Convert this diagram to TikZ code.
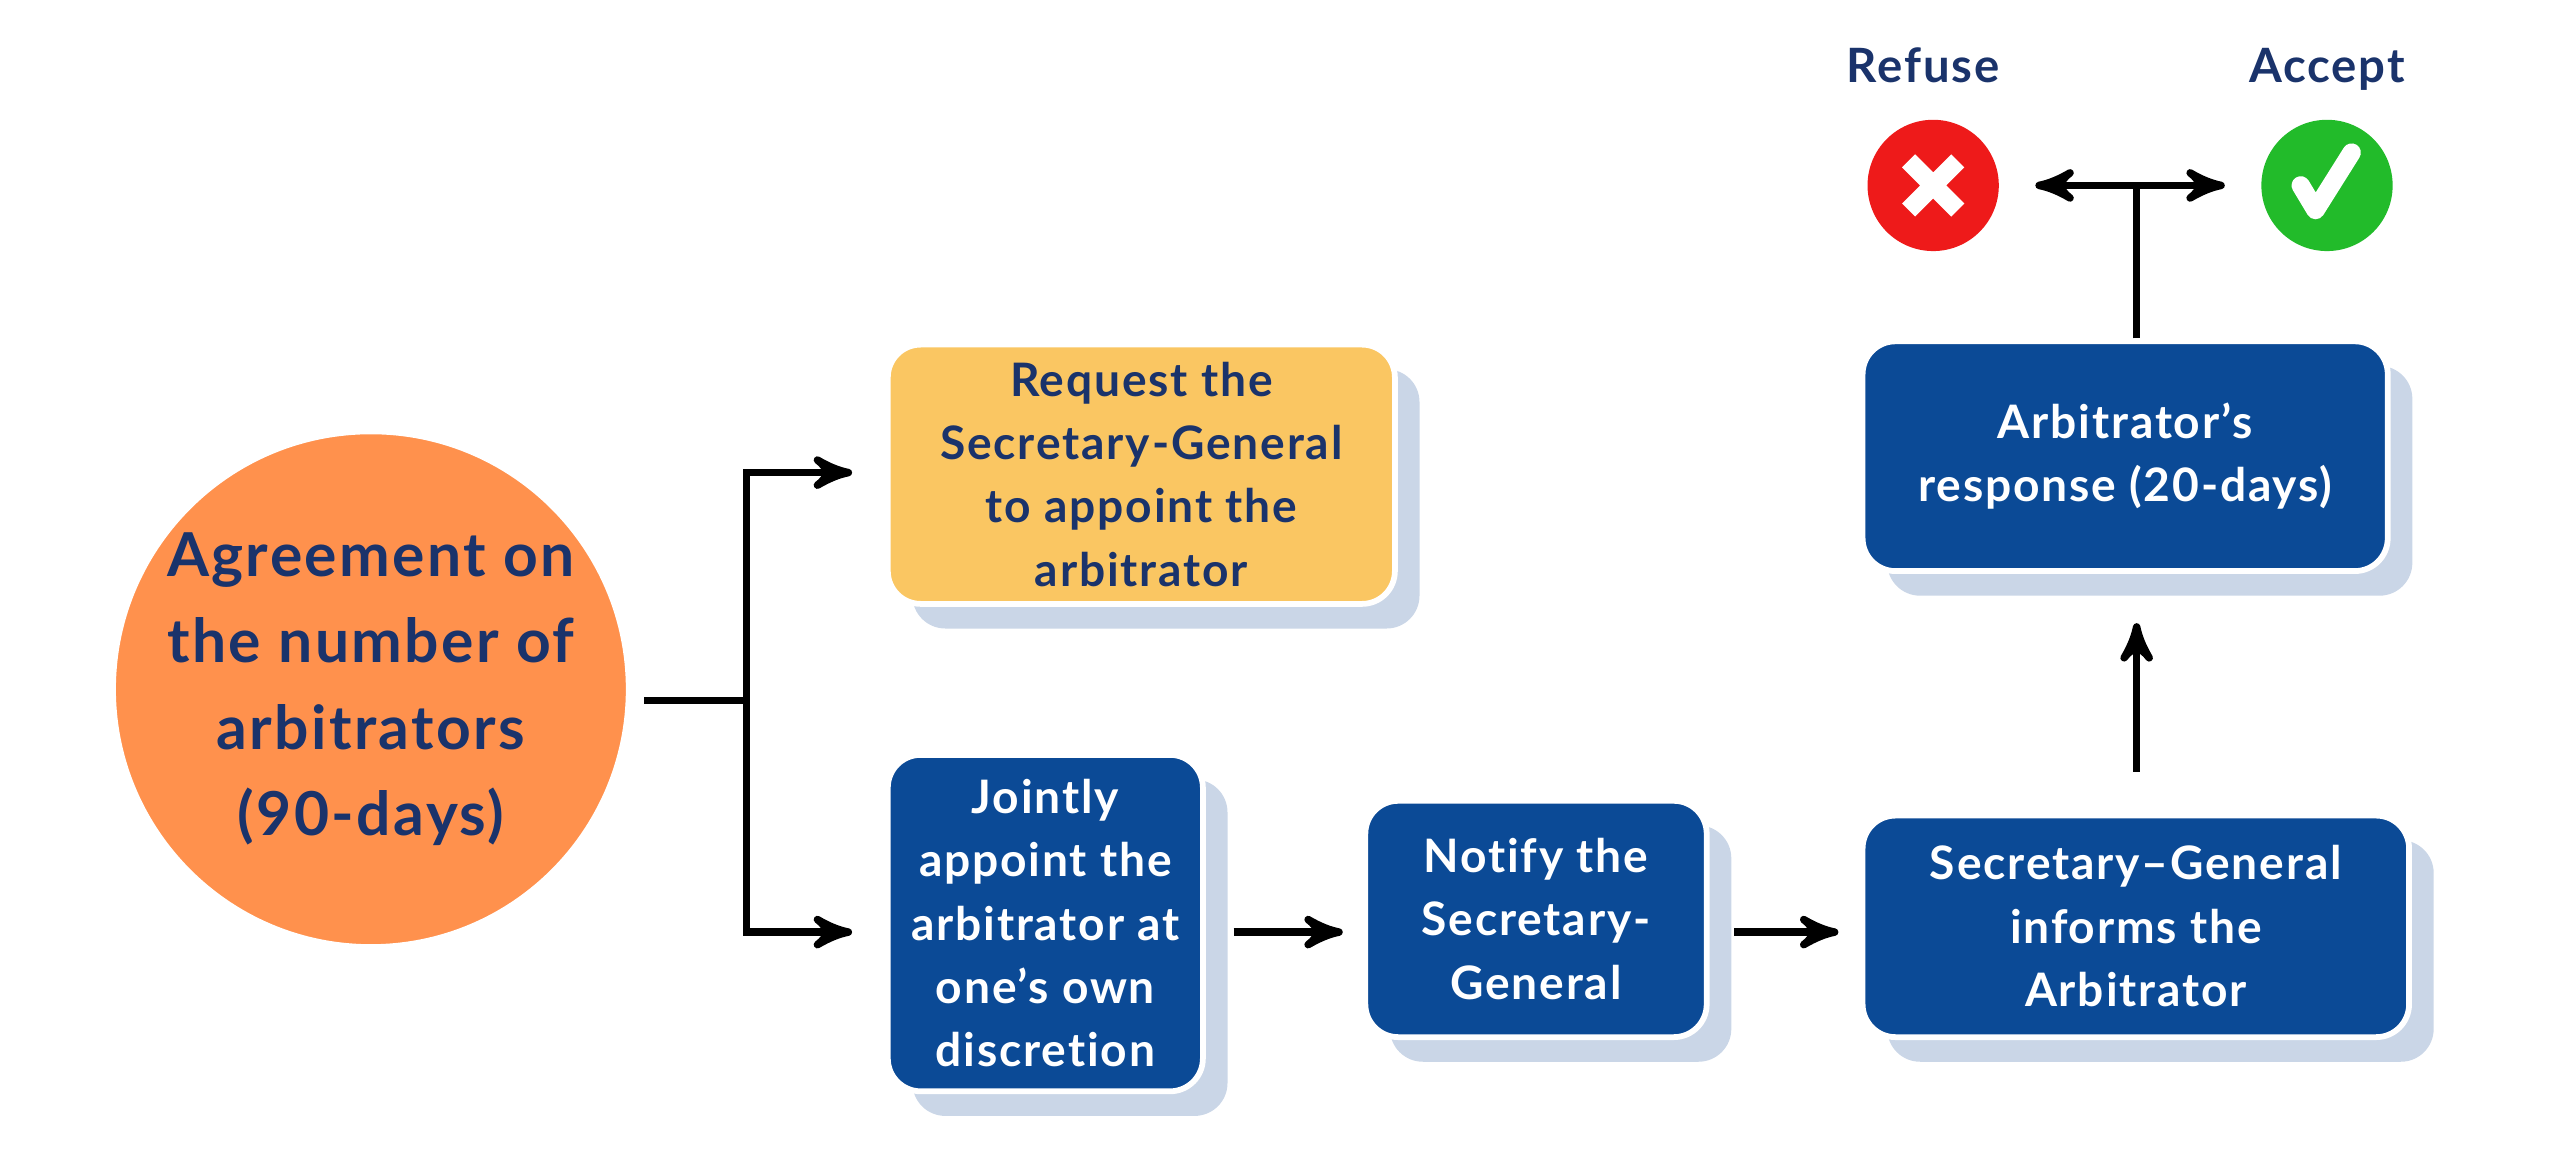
\documentclass[tikz,border=0pt]{standalone}
\usepackage{fontspec}
\setmainfont{Lato}[LetterSpace=4, Ligatures={NoCommon}]
\usetikzlibrary{arrows, positioning, shadows}
\definecolor{navy}{HTML}{0B4A96}
\definecolor{ink}{HTML}{1A336B}
\definecolor{peach}{HTML}{FF914D}
\definecolor{sand}{HTML}{FAC662}
\definecolor{shade}{HTML}{CAD6E7}
\definecolor{nogo}{HTML}{EE1A1A}
\definecolor{gogo}{HTML}{22BB2A}
\begin{document}
\begin{tikzpicture}[->, >=stealth', line width=1.3pt]
    \tikzstyle{stage} = [draw=white, line width=1pt, rounded corners=0.2cm, text centered, align=center,
        font=\bfseries\fontsize{8}{11}\selectfont, text=white, fill=navy, inner sep=0pt,
        drop shadow={shadow xshift=0.15cm, shadow yshift=-0.15cm, fill=shade, opacity=1}]
    \tikzstyle{verdict} = [circle, minimum size=0.8cm, inner sep=0pt]
    \tikzstyle{tag} = [font=\bfseries\fontsize{8.2}{10}\selectfont, text=ink]
    \useasboundingbox (0,0) rectangle (15.6,-7.05);
    \node [circle, fill=peach, draw=white, line width=1.5pt, minimum size=3.16cm, inner sep=0pt, align=center, text=ink,
        font=\bfseries\fontsize{10.5}{15}\selectfont] at (2.26,-4.2) (start) {Agreement on\\the number of\\arbitrators\\(90-days)};
    \node [stage, fill=sand, text=ink, minimum width=3.09cm, minimum height=1.58cm] at (6.955,-2.89) (request) {Request the\\Secretary-General\\to appoint the\\arbitrator};
    \node [stage, minimum width=1.92cm, minimum height=2.05cm] at (6.37,-5.625) (jointly) {Jointly\\appoint the\\arbitrator at\\one’s own\\discretion};
    \node [stage, minimum width=2.08cm, minimum height=1.44cm] at (9.36,-5.6) (notify) {Notify the\\Secretary-\\General};
    \node [stage, minimum width=3.33cm, minimum height=1.35cm] at (13.015,-5.645) (informs) {Secretary–General\\informs the\\Arbitrator};
    \node [stage, minimum width=3.2cm, minimum height=1.4cm] at (12.95,-2.78) (response) {Arbitrator’s\\response (20-days)};
    \node [verdict, fill=nogo] at (11.78,-1.13) (refuse) {};
    \node [verdict, fill=gogo] at (14.18,-1.13) (accept) {};
    \node [tag, anchor=base] at (11.72,-0.5) (refusetag) {Refuse};
    \node [tag, anchor=base] at (14.18,-0.5) (accepttag) {Accept};
    \draw [-, white, line width=3.2pt] (refuse.center) ++(-0.15,-0.15) -- ++(0.3,0.3) ++(0,-0.3) -- ++(-0.3,0.3);
    \draw [-, white, line width=3.2pt, line cap=round, line join=round] (accept.center) ++(-0.16,0) -- ++(0.09,-0.15) -- ++(0.22,0.35);
    \coordinate (fork) at (4.55,-4.27);
    \draw [-] (start.east |- fork) ++(0.06,0) -- (fork);
    \draw (fork) |- ([xshift=-0.2cm]request.west |- 0,-2.88);
    \draw (fork) |- ([xshift=-0.2cm]jointly.west |- 0,-5.68);
    \draw ([xshift=0.17cm]jointly.east |- 0,-5.68) -- ([xshift=-0.12cm]notify.west |- 0,-5.68);
    \draw ([xshift=0.15cm]notify.east |- 0,-5.68) -- ([xshift=-0.13cm]informs.west |- 0,-5.68);
    \draw ([yshift=0.25cm]informs.north -| 13.02,0) -- ([yshift=-0.3cm]response.south -| 13.02,0);
    \coordinate (split) at (13.02,-1.13);
    \draw [-] (response.north -| split) -- (split);
    \draw (split) -- ([xshift=-0.2cm]accept.west);
    \draw (split) -- ([xshift=0.2cm]refuse.east);
\end{tikzpicture}
\end{document}
